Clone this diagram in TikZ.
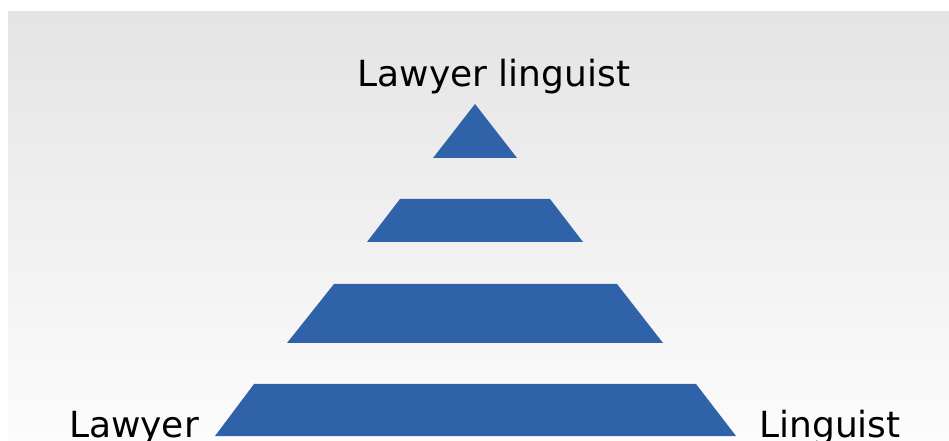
\documentclass[tikz,border=0pt]{standalone}
\usepackage{fontspec}
\setmainfont{DejaVu Sans}
\definecolor{pyrblue}{RGB}{47,98,168}
\definecolor{bgtop}{RGB}{228,228,228}
\definecolor{bgbot}{RGB}{252,252,252}
\tikzset{
  tier/.style={fill=pyrblue, draw=none},
  lbl/.style={inner sep=0pt, anchor=base, font=\fontsize{36bp}{43bp}\selectfont, text=black}
}
\begin{document}
\begin{tikzpicture}[x=1bp,y=-1bp]
\useasboundingbox (0,0) rectangle (949,441);
\fill[white] (0,0) rectangle (949,441);
\shade[top color=bgtop, bottom color=bgbot] (8,12) rectangle (949,441);
% tiers
\path[tier] (475,104) -- (517,158) -- (433,158) -- cycle;
\path[tier] (400,199) -- (550,199) -- (583,242) -- (367,242) -- cycle;
\path[tier] (334,284) -- (617,284) -- (663,343) -- (287,343) -- cycle;
\path[tier] (254,384) -- (696,384) -- (736,436) -- (215,436) -- cycle;
% labels
\node[lbl] (top) at (494,87) {Lawyer linguist};
\node[lbl] (left) at (134,437) {Lawyer};
\node[lbl] (right) at (830,437) {Linguist};
\end{tikzpicture}
\end{document}
